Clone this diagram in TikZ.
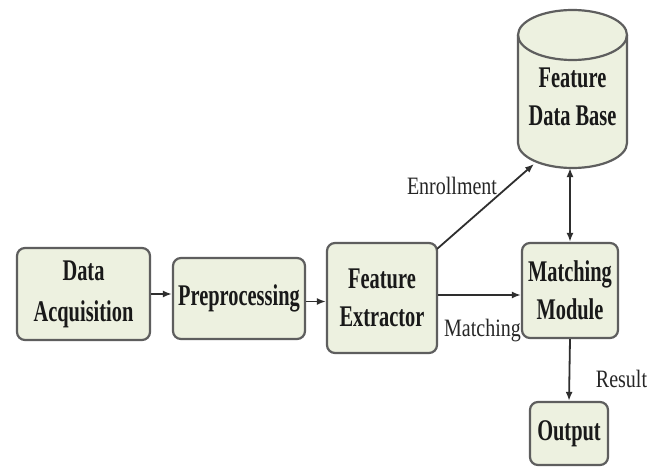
\documentclass[tikz,border=0pt]{standalone}
\usepackage{fontspec}
\usetikzlibrary{arrows.meta}
\newfontfamily\boxfnt[FakeStretch=0.68]{Liberation Serif}
\newfontfamily\lblfnt[FakeStretch=0.8]{Liberation Serif}
\definecolor{boxfill}{HTML}{EDF1E0}
\definecolor{boxline}{HTML}{5E5E5E}
\definecolor{arr}{HTML}{2E2E2E}
\tikzset{
  stepbox/.style={draw=boxline, fill=boxfill, line width=2.2pt, rounded corners=8pt,
    inner sep=0pt, align=center, font=\boxfnt\bfseries\fontsize{30}{38}\selectfont, text=black!90},
  lbl/.style={inner sep=0pt, anchor=base, font=\lblfnt\fontsize{25}{30}\selectfont, text=black!85},
  conn/.style={draw=arr, line width=1.8pt, -{Latex[length=9pt,width=7pt]}},
  conn2/.style={draw=arr, line width=1.8pt, {Latex[length=9pt,width=7pt]}-{Latex[length=9pt,width=7pt]}}
}
\begin{document}
\begin{tikzpicture}[x=1pt,y=1pt]
\useasboundingbox (0,0) rectangle (664,-468);
\fill[white] (0,0) rectangle (664,-468);
% boxes
\node[stepbox, minimum width=133pt, minimum height=92pt, font=\boxfnt\bfseries\fontsize{30}{41}\selectfont] (da) at (83.5,-294) {Data\\Acquisition};
\node[stepbox, minimum width=132pt, minimum height=81pt] (pp) at (239,-298.5) {Preprocessing};
\node[stepbox, minimum width=110pt, minimum height=110pt] (fe) at (382,-298) {Feature\\Extractor};
\node[stepbox, minimum width=96pt, minimum height=95pt] (mm) at (570,-290.5) {Matching\\Module};
\node[stepbox, minimum width=78pt, minimum height=63pt] (out) at (569,-433.5) {Output};
% database cylinder
\filldraw[draw=boxline, fill=boxfill, line width=2.2pt]
  (518,-35) -- (518,-143) arc[start angle=180,end angle=360,x radius=54.5,y radius=25]
  -- (627,-35) arc[start angle=0,end angle=180,x radius=54.5,y radius=25] -- cycle;
\draw[draw=boxline, line width=2.2pt] (518,-35) arc[start angle=180,end angle=360,x radius=54.5,y radius=25];
\node[inner sep=0pt, minimum width=109pt, minimum height=158pt, align=center,
  font=\boxfnt\bfseries\fontsize{30}{38}\selectfont, text=black!90] (db) at (572.5,-97) {Feature\\Data Base};
\coordinate (dbin) at (534,-164);
% connectors
\draw[conn] (da.east) -- (da.east -| pp.west);
\draw[conn] ([yshift=-3pt]pp.east) -- ([yshift=-3pt]pp.east -| fe.west);
\draw[conn] ([yshift=3pt]fe.east) -- ([yshift=3pt]fe.east -| mm.west);
\draw[conn] ([xshift=-1pt,yshift=-7pt]fe.north east) -- (dbin);
\draw[conn2] (mm.north |- 0,-168) -- (mm.north);
\draw[conn] (mm.south) -- (out.north);
% labels
\node[lbl] (lenr) at (452,-194) {Enrollment};
\node[lbl] (lmat) at (482.5,-336) {Matching};
\node[lbl] (lres) at (621.5,-387) {Result};
\end{tikzpicture}
\end{document}
